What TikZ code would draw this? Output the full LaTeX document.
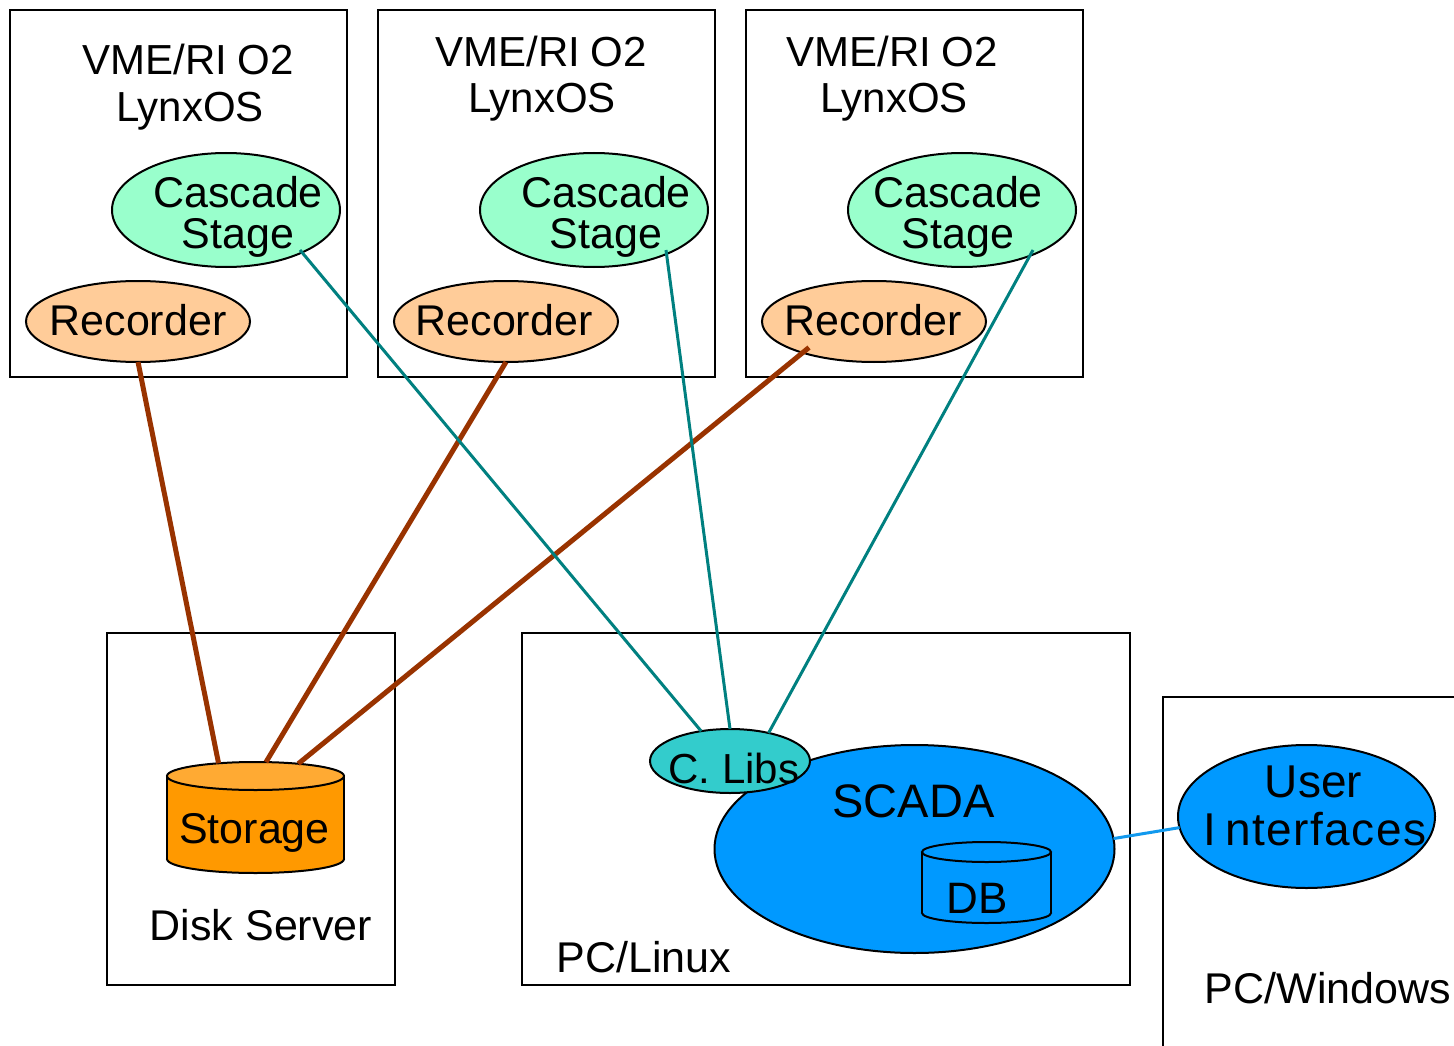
\documentclass[tikz,border=0pt]{standalone}
\usepackage{fontspec}
\setmainfont{Liberation Sans}
\usetikzlibrary{shapes.geometric,calc}
\definecolor{cascfill}{HTML}{99FFCC}
\definecolor{recfill}{HTML}{FFCC99}
\definecolor{storbody}{HTML}{FF9900}
\definecolor{stortopc}{HTML}{FFAA33}
\definecolor{clibfill}{HTML}{33CCCC}
\definecolor{scadafill}{HTML}{0099FF}
\definecolor{recline}{HTML}{993300}
\definecolor{casline}{HTML}{008080}
\definecolor{uiline}{HTML}{1199EE}
\begin{document}
\begin{tikzpicture}[x=1pt,y=-1pt,
  hostbox/.style={draw=black, line width=2.5pt, rectangle, inner sep=0pt, outer sep=0pt},
  oval/.style={draw=black, line width=2pt, ellipse, inner sep=0pt, outer sep=0pt},
  lbl/.style={anchor=base, inner sep=0pt, outer sep=0pt, font=\fontsize{43}{50}\selectfont},
  vlbl/.style={lbl, font=\fontsize{42}{50}\selectfont},
  biglbl/.style={lbl, font=\fontsize{47}{54}\selectfont},
  recconn/.style={draw=recline, line width=5pt},
  casconn/.style={draw=casline, line width=3pt},
  uiconn/.style={draw=uiline, line width=3pt},
  cylline/.style={draw=black, line width=2pt},
]
\useasboundingbox (0,0) rectangle (1454,1046);
\clip (0,0) rectangle (1454,1046);
\fill[white] (0,0) rectangle (1454,1046);

% host boxes
\node[hostbox, minimum width=337pt, minimum height=367pt] (vme1) at (178.5,193.5) {};
\node[hostbox, minimum width=337pt, minimum height=367pt] (vme2) at (546.5,193.5) {};
\node[hostbox, minimum width=337pt, minimum height=367pt] (vme3) at (914.5,193.5) {};
\node[hostbox, minimum width=288pt, minimum height=352pt] (disk) at (251,809) {};
\node[hostbox, minimum width=608pt, minimum height=352pt] (linux) at (826,809) {};
\node[hostbox, minimum width=330pt, minimum height=380pt] (win) at (1328,887) {};

% ellipses in VME boxes
\node[oval, fill=cascfill, minimum width=228pt, minimum height=114pt] (cas1) at (226,210) {};
\node[oval, fill=cascfill, minimum width=228pt, minimum height=114pt] (cas2) at (594,210) {};
\node[oval, fill=cascfill, minimum width=228pt, minimum height=114pt] (cas3) at (962,210) {};
\node[oval, fill=recfill, minimum width=224pt, minimum height=81pt] (rec1) at (138,321.5) {};
\node[oval, fill=recfill, minimum width=224pt, minimum height=81pt] (rec2) at (506,321.5) {};
\node[oval, fill=recfill, minimum width=224pt, minimum height=81pt] (rec3) at (874,321.5) {};

% storage cylinder
\filldraw[fill=storbody, cylline] (255.5,859) ellipse [x radius=88.5, y radius=14];
\fill[storbody] (167,776) rectangle (344,859);
\draw[cylline] (167,776) -- (167,859) (344,776) -- (344,859);
\node[oval, fill=stortopc, minimum width=177pt, minimum height=28pt] (stortop) at (255.5,776) {};

% SCADA, DB, C. Libs, User Interfaces
\node[oval, fill=scadafill, minimum width=400pt, minimum height=208pt] (scada) at (914.5,849) {};
\filldraw[fill=scadafill, cylline] (986.5,913) ellipse [x radius=64.5, y radius=10];
\fill[scadafill] (922,852) rectangle (1051,913);
\draw[cylline] (922,852) -- (922,913) (1051,852) -- (1051,913);
\node[oval, fill=scadafill, minimum width=129pt, minimum height=20pt] (dbtop) at (986.5,852) {};
\node[oval, fill=clibfill, minimum width=160pt, minimum height=64pt] (clibs) at (730,761) {};
\node[oval, fill=scadafill, minimum width=257pt, minimum height=143pt] (ui) at (1306.5,816.5) {};

% connectors
\draw[recconn] (rec1.south) -- (stortop.161);
\draw[recconn] (rec2.south) -- (stortop.53);
\draw[recconn] ($(rec3)+(-65,26)$) -- (stortop.16);
\draw[casconn] ($(cas1)+(74,40)$) -- (clibs.134);
\draw[casconn] ($(cas2)+(72,40)$) -- (clibs.north);
\draw[casconn] ($(cas3)+(71,40)$) -- (clibs.36);
\draw[uiconn] (scada.3) -- (ui.185);

% texts
\node[vlbl] (vme1a) at (188,75) {VME/RI\hspace{0.25em}O2};
\node[vlbl] (vme1b) at (190,122) {LynxOS};
\node[vlbl] (vme2a) at (541,67) {VME/RI\hspace{0.25em}O2};
\node[vlbl] (vme2b) at (542,113) {LynxOS};
\node[vlbl] (vme3a) at (892,67) {VME/RI\hspace{0.25em}O2};
\node[vlbl] (vme3b) at (894,113) {LynxOS};
\node[lbl] (cas1a) at (238,207) {Cascade};
\node[lbl] (cas1b) at (238,248) {Stage};
\node[lbl] (cas2a) at (606,207) {Cascade};
\node[lbl] (cas2b) at (606,248) {Stage};
\node[lbl] (cas3a) at (958,207) {Cascade};
\node[lbl] (cas3b) at (958,248) {Stage};
\node[lbl] (rec1t) at (138,335) {Recorder};
\node[lbl] (rec2t) at (504,335) {Recorder};
\node[lbl] (rec3t) at (873,335) {Recorder};
\node[lbl] (stort) at (254.5,843) {Storage};
\node[lbl] (diskt) at (261,940) {Disk Server};
\node[lbl] (linuxt) at (644,972) {PC/Linux};
\node[biglbl] (scadat) at (913.5,817) {SCADA};
\node[lbl, font=\fontsize{44}{50}\selectfont] (dbt) at (977,913) {DB};
\node[lbl, font=\fontsize{42}{50}\selectfont] (clibst) at (734,783) {C. Libs};
\node[lbl, font=\fontsize{46}{52}\selectfont] (uia) at (1313.5,797) {User};
\node[lbl, font=\fontsize{46}{52}\selectfont\addfontfeature{LetterSpace=3}] (uib) at (1315,845) {I\hspace{0.2em}nterfaces};
\node[lbl, anchor=base east] (wint) at (1451,1003) {PC/Windows};
\end{tikzpicture}
\end{document}
